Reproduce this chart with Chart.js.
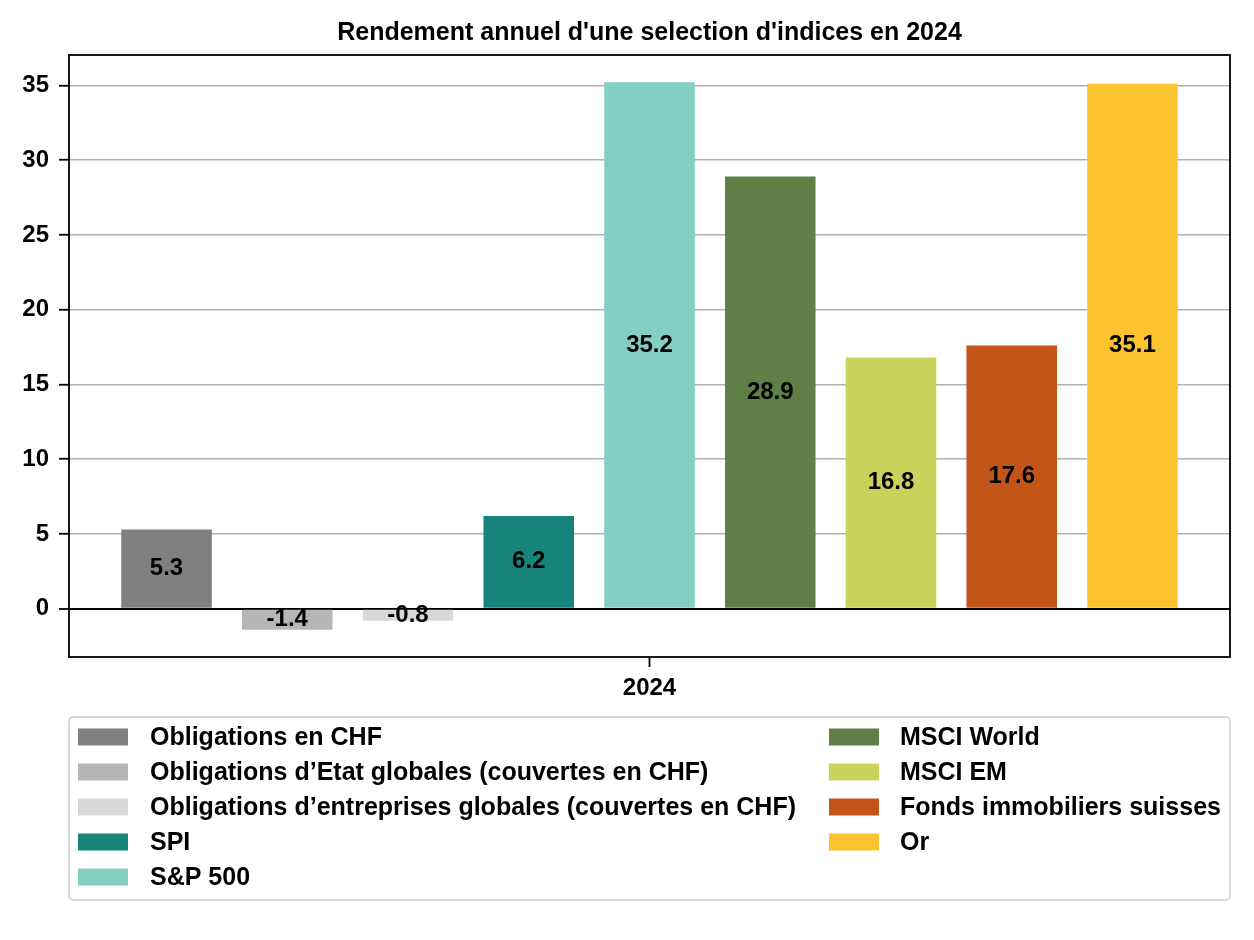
<!DOCTYPE html>
<html>
<head>
<meta charset="utf-8">
<title>Rendement annuel 2024</title>
<script src="https://cdn.jsdelivr.net/npm/chart.js@4"></script>
<style>
  html, body { margin: 0; padding: 0; background: #fff; }
  #wrap { width: 1254px; height: 940px; }
</style>
</head>
<body>
<div id="wrap"><canvas id="rendChart" width="1254" height="940"></canvas></div>
<script>
// Rendement annuel d'une selection d'indices en 2024 (%)

const annees = ['2024'];
const indices = [
  'Obligations en CHF',
  'Obligations d\u2019Etat globales (couvertes en CHF)',
  'Obligations d\u2019entreprises globales (couvertes en CHF)',
  'SPI',
  'S&P 500',
  'MSCI World',
  'MSCI EM',
  'Fonds immobiliers suisses',
  'Or'
];
const rendements = [5.3, -1.4, -0.8, 6.2, 35.2, 28.9, 16.8, 17.6, 35.1];
const couleurs = ['#808080', '#b6b6b6', '#d8d8d8', '#16847b', '#84cec3', '#5e7f45', '#c9d35a', '#c45518', '#fbc32f'];
const yTicks = [0, 5, 10, 15, 20, 25, 30, 35];

const police = 'Liberation Sans, Arial, sans-serif';

// titre, cadre, etiquettes des barres et legende en deux colonnes
const dessinPlugin = {
  id: 'dessin',
  afterDraw(chart) {
    const ctx = chart.ctx;
    const a = chart.chartArea;
    ctx.save();

    // cadre
    ctx.strokeStyle = '#000';
    ctx.lineWidth = 1.8;
    ctx.strokeRect(a.left, a.top, a.right - a.left, a.bottom - a.top);

    // titre
    ctx.fillStyle = '#000';
    ctx.font = 'bold 25px ' + police;
    ctx.textAlign = 'center';
    ctx.textBaseline = 'middle';
    ctx.fillText('Rendement annuel d\'une selection d\'indices en 2024', (a.left + a.right) / 2, 33);

    // valeurs au milieu des barres
    ctx.font = 'bold 24px ' + police;
    chart.data.datasets.forEach((ds, i) => {
      const bar = chart.getDatasetMeta(i).data[0];
      ctx.fillText(ds.data[0].toFixed(1), bar.x, (bar.y + bar.base) / 2);
    });

    // legende
    const boxX = a.left, boxY = 717, boxW = a.right - a.left, boxH = 183;
    ctx.strokeStyle = '#cccccc';
    ctx.lineWidth = 1.5;
    ctx.beginPath();
    ctx.roundRect(boxX, boxY, boxW, boxH, 4);
    ctx.stroke();

    ctx.font = 'bold 25px ' + police;
    ctx.textAlign = 'left';
    chart.data.datasets.forEach((ds, i) => {
      const col = i < 5 ? 0 : 1;
      const row = i < 5 ? i : i - 5;
      const sx = col === 0 ? 78 : 829;
      const tx = col === 0 ? 150 : 900;
      const y = 737 + row * 35;
      ctx.fillStyle = ds.backgroundColor;
      ctx.fillRect(sx, y - 8.5, 50, 17);
      ctx.fillStyle = '#000';
      ctx.fillText(ds.label, tx, y + 1);
    });

    ctx.restore();
  }
};

const ctx = document.getElementById('rendChart').getContext('2d');

new Chart(ctx, {
  type: 'bar',
  data: {
    labels: annees,
    datasets: indices.map((nom, i) => ({
      label: nom,
      data: [rendements[i]],
      backgroundColor: couleurs[i],
      borderWidth: 0,
      categoryPercentage: 0.936,
      barPercentage: 0.75
    }))
  },
  options: {
    responsive: false,
    animation: false,
    layout: { padding: { top: 55, right: 24, bottom: 233, left: 0 } },
    plugins: {
      legend: { display: false },
      title: { display: false },
      tooltip: { enabled: false }
    },
    scales: {
      x: {
        grid: {
          offset: false,
          drawOnChartArea: false,
          tickLength: 10,
          tickColor: '#000',
          tickWidth: 1.8
        },
        border: { display: false },
        ticks: {
          color: '#000',
          padding: 7,
          font: { family: police, size: 24, weight: 'bold' }
        },
        afterFit(scale) { scale.height = 50; }
      },
      y: {
        min: -3.23,
        max: 37.03,
        z: 1,
        afterBuildTicks(scale) {
          scale.ticks = yTicks.map(v => ({ value: v }));
        },
        grid: {
          color: c => (c.tick && c.tick.value === 0 ? '#000' : '#b0b0b0'),
          lineWidth: c => (c.tick && c.tick.value === 0 ? 2 : 1.5),
          tickLength: 10,
          tickColor: '#000',
          tickWidth: 1.8
        },
        border: { display: false },
        ticks: {
          color: '#000',
          padding: 10,
          font: { family: police, size: 24, weight: 'bold' }
        },
        afterFit(scale) { scale.width = 69; }
      }
    }
  },
  plugins: [dessinPlugin]
});
</script>
</body>
</html>
